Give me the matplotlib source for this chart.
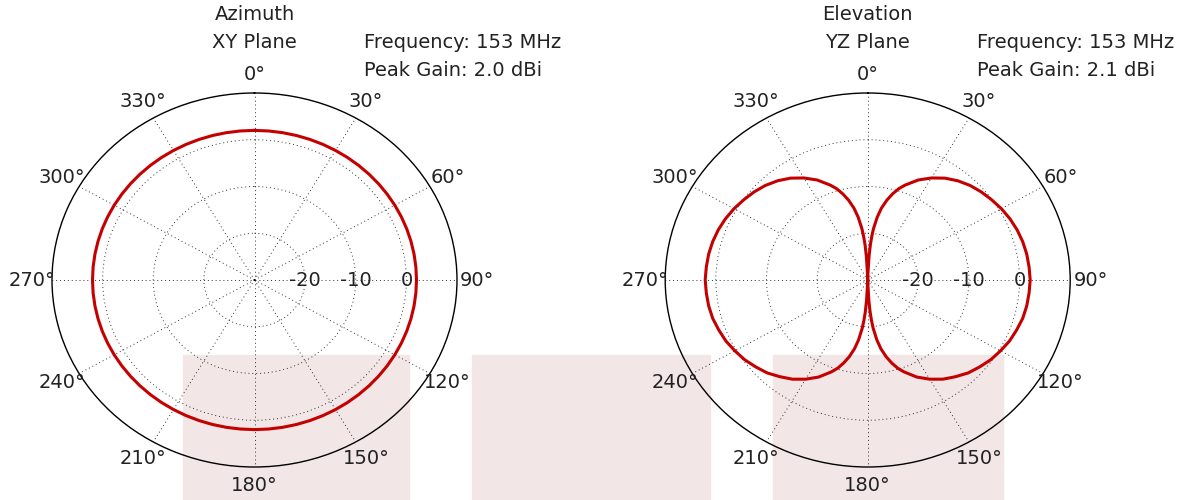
#!/usr/bin/env python
# antenna radiation patterns, azimuth and elevation cuts
import numpy as np
import matplotlib
matplotlib.use('Agg')
import matplotlib.pyplot as plt
from matplotlib.patches import Rectangle

# gain in dBi
az_angles = np.arange(0, 361, 5)
az_gain = [2.0] * len(az_angles)

# elevation cut, sampled more densely near the two nulls
el_angles_q1 = [0, 1, 2, 3, 4, 5, 6, 8, 10, 12.5, 15, 17.5, 20, 25, 30, 35,
                40, 45, 50, 55, 60, 65, 70, 75, 80, 85, 90]
el_gain_q1 = [-30, -30, -28.4, -24.9, -22.4, -20.5, -18.9, -16.4, -14.4,
              -12.5, -10.9, -9.5, -8.4, -6.4, -4.8, -3.4, -2.3, -1.4, -0.7,
              -0.1, 0.5, 1.0, 1.4, 1.7, 1.9, 2.0, 2.1]

el_angles_q2 = [95, 100, 105, 110, 115, 120, 125, 130, 135, 140, 145, 150,
                155, 160, 162.5, 165, 167.5, 170, 172, 174, 175, 176, 177,
                178, 179, 180]
el_gain_q2 = [2.0, 1.9, 1.7, 1.3, 0.9, 0.3, -0.3, -1.1, -1.9, -3.0, -4.1,
              -5.5, -7.1, -9.1, -10.2, -11.6, -13.2, -15.1, -17.1, -19.6,
              -21.2, -23.1, -25.6, -29.1, -30, -30]

el_angles_q3 = [181, 182, 183, 184, 185, 186, 188, 190, 192.5, 195, 197.5,
                200, 205, 210, 215, 220, 225, 230, 235, 240, 245, 250, 255,
                260, 265, 270]
el_gain_q3 = [-30, -29.1, -25.6, -23.1, -21.2, -19.6, -17.1, -15.1, -13.2,
              -11.6, -10.2, -9.1, -7.1, -5.5, -4.1, -3.0, -1.9, -1.1, -0.3,
              0.3, 0.9, 1.3, 1.7, 1.9, 2.0, 2.1]

el_angles_q4 = [275, 280, 285, 290, 295, 300, 305, 310, 315, 320, 325, 330,
                335, 340, 342.5, 345, 347.5, 350, 352, 354, 355, 356, 357,
                358, 359, 360]
el_gain_q4 = [2.0, 1.9, 1.7, 1.4, 1.0, 0.5, -0.1, -0.7, -1.4, -2.3, -3.4,
              -4.8, -6.4, -8.4, -9.5, -10.9, -12.5, -14.4, -16.4, -18.9,
              -20.5, -22.4, -24.9, -28.4, -30, -30]

el_angles = el_angles_q1 + el_angles_q2 + el_angles_q3 + el_angles_q4
el_gain = el_gain_q1 + el_gain_q2 + el_gain_q3 + el_gain_q4

titles = [("Azimuth", "XY Plane"), ("Elevation", "YZ Plane")]
frequency = "153 MHz"
peak_gain = ["2.0 dBi", "2.1 dBi"]

r_ticks = [-20, -10, 0]
theta_ticks = list(range(0, 360, 30))

W, H = 1185, 500
txtcol = '#222222'
red = '#c40000'

fig = plt.figure(figsize=(W / 100.0, H / 100.0), dpi=100)

# shaded boxes along the bottom edge (pixel x0, x1)
for x0, x1 in [(183, 409), (472, 710), (773, 1003)]:
    fig.patches.append(Rectangle((x0 / W, 0), (x1 - x0) / W, (H - 355) / H,
                                 transform=fig.transFigure, color='#f2e6e6',
                                 zorder=-10))


def fx(px):
    return px / W


def fy(py):
    return 1 - py / H


centers = [254.5, 867.7]
series = [(az_angles, az_gain), (el_angles, el_gain)]
rx, ry = 202.5, 187.0

for i in range(2):
    cx = centers[i]
    ax = fig.add_axes([fx(cx - rx), fy(280 + ry), 2 * rx / W, 2 * ry / H],
                      projection='polar')
    ax.set_aspect('auto')
    ax.set_facecolor('none')
    ax.set_theta_zero_location('N')
    ax.set_theta_direction(-1)
    ax.set_rlim(-30, 10)

    th, g = series[i]
    ax.plot(np.radians(th), g, color=red, lw=2.2, zorder=5)

    ax.set_xticks(np.radians(theta_ticks))
    ax.set_xticklabels([])
    ax.set_yticks(r_ticks)
    ax.set_yticklabels([])
    ax.tick_params(length=0)
    ax.grid(True, color='k', linestyle=(0, (1, 3)), lw=0.7, alpha=0.8)
    ax.spines['polar'].set_color('k')
    ax.spines['polar'].set_linewidth(1.0)

    for d in theta_ticks:
        ax.text(np.radians(d), 14, u'%d\u00b0' % d, ha='center', va='center',
                fontsize=14, color=txtcol, clip_on=False)
    for r in r_ticks:
        ax.text(np.pi / 2, r, '%d' % r, ha='center', va='center',
                fontsize=14, color=txtcol, zorder=6)

    fig.text(fx(cx), fy(15), titles[i][0], ha='center', va='center',
             fontsize=14, color=txtcol)
    fig.text(fx(cx), fy(43), titles[i][1], ha='center', va='center',
             fontsize=14, color=txtcol)
    fig.text(fx(cx + 109), fy(43), 'Frequency: ' + frequency, ha='left',
             va='center', fontsize=14, color=txtcol)
    fig.text(fx(cx + 109), fy(70), 'Peak Gain: ' + peak_gain[i], ha='left',
             va='center', fontsize=14, color=txtcol)

plt.savefig('out.png', dpi=100)
